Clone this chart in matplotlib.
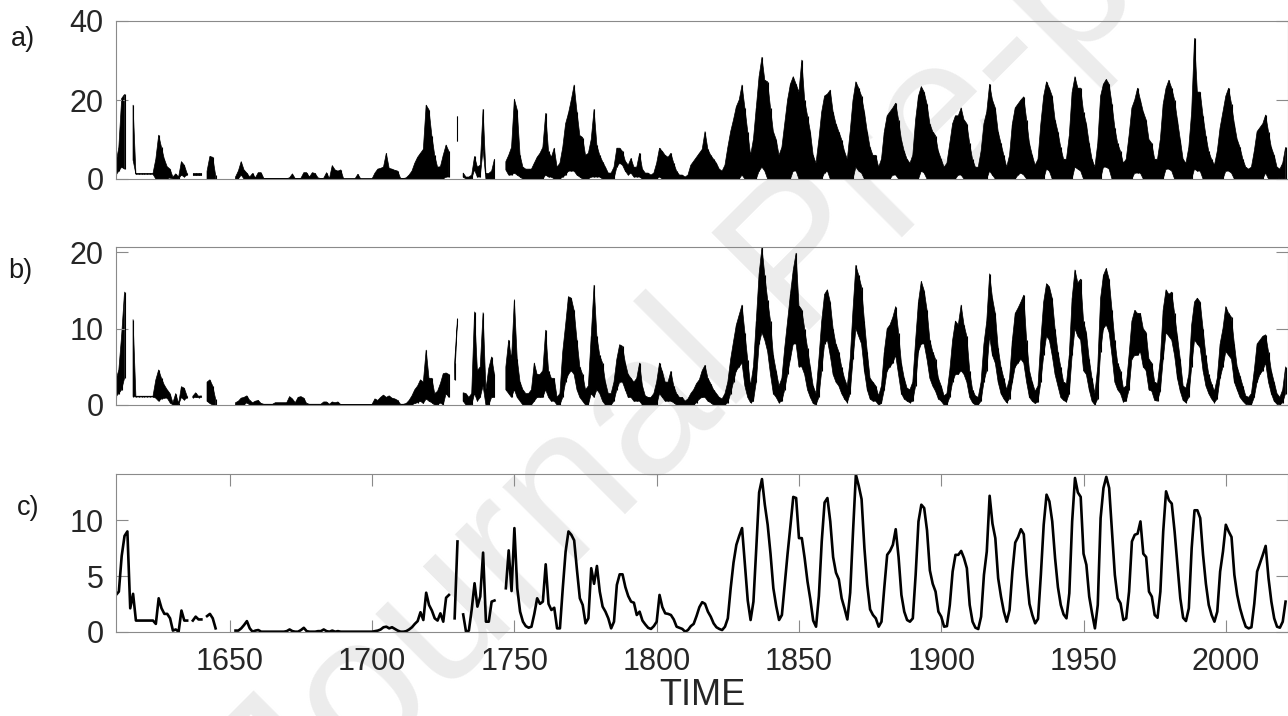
import numpy as np
import matplotlib
matplotlib.use("Agg")
import matplotlib.pyplot as plt

N = np.nan
years = np.arange(1610, 2022)

# c) yearly mean values
c_yearly = [
    3.3, 3.6, 6.8, 8.6, 9.0, 2.1, 3.4, 1.0, 1.0, 1.0,
    1.0, 1.0, 1.0, 1.0, 0.7, 3.0, 2.1, 1.6, 1.6, 1.2,
    0.1, 0.2, 0.0, 1.9, 1.0, 1.0, N, 1.0, 1.35, 1.1,
    1.1, N, 1.4, 1.6, 1.2, 0.3, N, N, N, N,
    N, N, 0.1, 0.1, 0.3, 0.6, 0.95, 0.3, 0.0, 0.1,
    0.15, 0.0, 0.0, 0.0, 0.0, 0.0, 0.0, 0.0, 0.0, 0.0,
    0.05, 0.2, 0.05, 0.0, 0.0, 0.15, 0.35, 0.05, 0.0, 0.0,
    0.0, 0.05, 0.05, 0.2, 0.05, 0.0, 0.1, 0.0, 0.05, 0.0,
    0.0, 0.0, 0.0, 0.0, 0.0, 0.0, 0.0, 0.0, 0.0, 0.0,
    0.0, 0.05, 0.1, 0.2, 0.4, 0.45, 0.3, 0.4, 0.25, 0.1,
    0.0, 0.0, 0.05, 0.2, 0.4, 0.7, 0.95, 1.75, 1.05, 3.5,
    2.4, 1.9, 1.2, 1.0, 1.65, 0.9, 3.05, 3.3, N, 1.2,
    8.1, N, 1.55, 0.0, 0.1, 2.0, 4.35, 2.25, 3.15, 7.1,
    0.9, 0.9, 2.7, 2.8, N, N, N, 3.9, 7.3, 3.65,
    9.3, 3.9, 1.8, 0.9, 0.5, 0.36, 0.45, 1.6, 3.0, 2.5,
    2.7, 6.05, 2.5, 1.95, 2.15, 0.3, 0.3, 3.9, 7.2, 9.0,
    8.7, 8.2, 5.5, 3.0, 2.4, 0.75, 1.2, 5.7, 4.3, 5.9,
    3.6, 2.25, 1.8, 1.2, 0.3, 0.9, 4.2, 5.15, 5.15, 4.0,
    3.2, 2.7, 2.6, 1.5, 1.8, 1.0, 0.65, 0.35, 0.25, 0.5,
    0.9, 3.3, 2.2, 1.65, 1.6, 1.5, 1.1, 0.45, 0.35, 0.25,
    0.0, 0.15, 0.5, 0.7, 1.4, 2.2, 2.65, 2.5, 1.8, 1.35,
    0.75, 0.4, 0.25, 0.15, 0.45, 1.2, 3.9, 6.2, 7.8, 8.6,
    9.3, 6.0, 2.8, 1.05, 2.7, 7.5, 12.5, 13.7, 11.4, 9.6,
    7.0, 3.9, 2.3, 1.05, 1.5, 4.3, 7.0, 9.5, 12.1, 12.0,
    8.4, 8.4, 6.6, 4.5, 2.9, 1.0, 0.45, 3.2, 8.1, 11.6,
    12.0, 9.9, 6.7, 5.3, 4.7, 3.0, 2.1, 1.1, 3.5, 9.0,
    14.1, 13.1, 11.9, 7.5, 4.2, 2.0, 1.5, 1.2, 0.45, 0.9,
    4.0, 6.9, 7.25, 7.8, 9.2, 6.7, 3.3, 1.8, 1.05, 0.9,
    1.2, 5.1, 9.9, 11.4, 11.1, 9.1, 5.5, 4.3, 3.6, 1.8,
    1.35, 0.45, 0.5, 2.4, 5.4, 6.9, 6.9, 7.25, 6.6, 5.7,
    2.4, 0.9, 0.36, 0.24, 1.35, 5.1, 7.2, 12.2, 9.7, 8.4,
    4.8, 3.15, 1.8, 0.9, 1.95, 5.4, 8.0, 8.5, 9.2, 8.75,
    5.1, 2.5, 1.5, 0.75, 1.15, 5.1, 9.6, 12.3, 11.7, 9.9,
    6.6, 4.0, 2.4, 1.55, 1.2, 3.45, 9.9, 13.8, 12.5, 12.1,
    7.0, 6.0, 3.15, 1.65, 0.3, 2.4, 10.2, 12.9, 13.9, 12.9,
    9.0, 5.1, 3.0, 2.55, 1.05, 1.2, 3.6, 8.1, 8.7, 8.8,
    9.9, 7.0, 6.7, 3.6, 3.15, 1.5, 1.25, 3.6, 9.0, 12.6,
    11.8, 11.5, 9.0, 6.0, 3.0, 1.25, 0.96, 2.1, 7.5, 10.9,
    10.9, 10.2, 6.9, 4.3, 2.4, 1.5, 0.9, 1.8, 5.4, 7.2,
    9.6, 9.0, 8.5, 5.1, 3.3, 2.1, 1.2, 0.45, 0.3, 0.4,
    2.5, 5.4, 6.15, 6.9, 7.7, 4.8, 2.7, 1.2, 0.45, 0.36,
    0.9, 2.7,
]

# b) monthly values: lowest and highest month of each year
b_low = [
    1.1, 1.5, 2.0, 3.5, N, N, 1.1, 1.05, 1.05, 1.05,
    1.05, 1.05, 1.05, 1.05, 0.9, 0.5, 0.8, 0.9, 0.9, 0.3,
    0.0, 0.0, 0.0, 1.0, 0.65, 0.95, N, 0.95, 1.0, 0.95,
    1.0, N, 0.5, 0.2, 0.0, 0.0, N, N, N, N,
    N, N, 0.0, 0.0, 0.0, 0.0, 0.3, 0.0, 0.0, 0.0,
    0.0, 0.0, 0.0, 0.0, 0.0, 0.0, 0.0, 0.0, 0.0, 0.0,
    0.0, 0.0, 0.0, 0.0, 0.0, 0.0, 0.0, 0.0, 0.0, 0.0,
    0.0, 0.0, 0.0, 0.0, 0.0, 0.0, 0.0, 0.0, 0.0, 0.0,
    0.0, 0.0, 0.0, 0.0, 0.0, 0.0, 0.0, 0.0, 0.0, 0.0,
    0.0, 0.0, 0.0, 0.0, 0.0, 0.0, 0.0, 0.0, 0.0, 0.0,
    0.0, 0.0, 0.0, 0.0, 0.0, 0.2, 0.3, 0.5, 0.2, 0.8,
    0.5, 0.3, 0.0, 0.0, 0.3, 0.0, 1.5, 1.0, N, 3.3,
    10.9, N, 0.5, 0.0, 0.0, 0.0, 1.5, 0.5, 1.0, 2.5,
    0.0, 0.0, 1.0, 1.0, N, N, N, 2.0, 1.5, 1.0,
    2.0, 1.0, 0.5, 0.0, 0.0, 0.0, 0.0, 0.5, 1.0, 1.0,
    1.0, 2.0, 1.0, 0.5, 0.5, 0.0, 0.0, 1.0, 3.0, 4.0,
    4.5, 4.0, 2.0, 1.0, 0.5, 0.0, 0.0, 1.5, 1.0, 2.0,
    1.5, 0.5, 0.0, 0.0, 0.0, 0.5, 2.0, 3.0, 3.0, 2.0,
    1.0, 1.0, 0.5, 0.5, 0.5, 0.0, 0.0, 0.0, 0.0, 0.0,
    0.0, 1.5, 1.0, 0.5, 0.5, 0.5, 0.3, 0.0, 0.0, 0.0,
    0.0, 0.0, 0.0, 0.0, 0.3, 0.8, 1.0, 1.0, 0.5, 0.3,
    0.0, 0.0, 0.0, 0.0, 0.0, 0.3, 1.5, 3.0, 4.5, 5.0,
    5.5, 2.5, 1.0, 0.3, 0.5, 3.0, 8.0, 9.5, 8.5, 7.0,
    4.0, 1.5, 1.0, 0.3, 0.5, 2.0, 4.0, 6.0, 8.0, 8.0,
    5.0, 5.0, 4.0, 2.0, 1.0, 0.2, 0.0, 1.0, 4.5, 8.0,
    8.5, 6.5, 4.0, 3.0, 2.5, 1.5, 0.8, 0.3, 1.5, 6.0,
    10.0, 9.0, 8.0, 4.5, 2.0, 0.8, 0.5, 0.5, 0.0, 0.2,
    2.0, 4.5, 5.0, 5.5, 6.5, 4.0, 1.5, 0.8, 0.5, 0.3,
    0.5, 2.5, 7.0, 8.0, 8.0, 6.0, 3.5, 2.5, 1.8, 0.8,
    0.5, 0.0, 0.0, 1.0, 3.0, 4.0, 4.0, 4.5, 4.0, 3.0,
    1.0, 0.3, 0.0, 0.0, 0.5, 3.0, 4.5, 9.0, 6.5, 5.5,
    3.0, 1.5, 0.8, 0.3, 0.8, 3.0, 5.0, 5.5, 6.0, 5.5,
    3.0, 1.0, 0.5, 0.2, 0.4, 3.0, 6.5, 9.0, 8.5, 6.5,
    4.0, 2.5, 1.0, 0.6, 0.4, 1.5, 6.5, 10.0, 9.0, 8.5,
    4.5, 4.0, 2.0, 0.5, 0.0, 0.8, 7.0, 10.0, 10.5, 9.5,
    6.5, 3.0, 2.0, 1.5, 0.4, 0.5, 2.0, 6.0, 6.5, 6.5,
    7.0, 5.0, 4.5, 2.0, 1.8, 0.6, 0.5, 1.8, 6.0, 9.5,
    9.0, 8.5, 6.5, 3.5, 1.8, 0.6, 0.3, 1.0, 5.0, 8.5,
    8.0, 7.5, 4.5, 2.5, 1.5, 0.8, 0.3, 0.8, 3.5, 5.0,
    7.0, 6.5, 6.0, 3.0, 2.0, 1.0, 0.5, 0.1, 0.0, 0.0,
    1.0, 3.0, 4.0, 4.5, 5.5, 3.0, 1.5, 0.5, 0.1, 0.0,
    0.3, 1.5,
]
b_high = [
    3.3, 4.6, 9.2, 14.8, N, N, 11.2, 1.15, 1.15, 1.15,
    1.15, 1.15, 1.15, 1.15, 3.3, 4.6, 3.5, 2.6, 2.0, 1.5,
    0.3, 1.5, 0.2, 2.4, 2.2, 1.15, N, 1.15, 1.6, 1.15,
    1.2, N, 3.0, 3.3, 2.5, 0.8, N, N, N, N,
    N, N, 0.3, 0.5, 0.9, 1.0, 1.2, 0.6, 0.3, 0.5,
    0.6, 0.2, 0.1, 0.1, 0.1, 0.1, 0.3, 0.3, 0.3, 0.3,
    0.3, 1.1, 0.8, 0.3, 1.0, 1.1, 0.9, 0.2, 0.1, 0.1,
    0.1, 0.1, 0.1, 0.4, 0.4, 0.1, 0.4, 0.3, 0.4, 0.05,
    0.05, 0.05, 0.05, 0.05, 0.05, 0.05, 0.05, 0.05, 0.05, 0.05,
    0.1, 0.8, 0.6, 1.0, 1.3, 1.0, 1.2, 0.9, 0.8, 0.6,
    0.1, 0.1, 0.2, 0.6, 1.2, 2.0, 2.5, 3.3, 3.0, 7.2,
    3.5, 3.5, 1.5, 1.8, 2.8, 4.1, 4.2, 4.0, N, 5.5,
    11.3, N, 1.6, 1.5, 1.0, 1.5, 12.2, 4.5, 5.0, 12.1,
    2.0, 4.8, 6.3, 4.0, N, N, N, 5.0, 8.5, 6.0,
    13.8, 6.0, 3.0, 2.0, 1.5, 1.5, 2.0, 5.5, 4.0, 4.0,
    4.5, 9.8, 4.5, 3.5, 3.5, 1.0, 1.5, 7.0, 10.5, 14.2,
    14.0, 12.4, 8.5, 5.0, 4.0, 2.0, 2.5, 9.0, 15.7, 9.0,
    6.5, 5.5, 3.0, 1.5, 1.5, 3.0, 6.0, 7.9, 7.7, 5.5,
    4.0, 3.5, 3.0, 3.5, 5.5, 2.5, 1.2, 1.0, 1.0, 1.5,
    3.0, 5.5, 4.4, 3.0, 3.0, 4.4, 2.5, 1.5, 1.0, 1.0,
    0.5, 0.8, 1.5, 2.0, 2.8, 3.3, 4.5, 5.2, 3.5, 2.8,
    2.0, 1.5, 1.0, 0.8, 1.5, 3.0, 6.0, 8.3, 10.5, 11.8,
    13.1, 9.5, 5.9, 2.5, 5.0, 11.0, 17.2, 20.67, 17.0, 13.8,
    11.0, 6.5, 4.5, 2.5, 3.5, 7.5, 11.0, 14.5, 17.7, 19.9,
    13.0, 12.5, 10.0, 7.5, 5.0, 2.5, 1.5, 6.0, 11.0, 14.5,
    15.1, 13.5, 10.0, 8.0, 7.0, 5.0, 3.5, 2.5, 6.0, 12.5,
    18.3, 17.0, 15.5, 11.0, 7.0, 3.5, 3.0, 2.5, 1.2, 2.5,
    7.0, 10.0, 10.5, 11.5, 12.9, 9.5, 5.5, 3.5, 2.2, 2.0,
    3.0, 8.5, 13.5, 16.2, 15.0, 12.5, 8.5, 7.0, 6.0, 3.5,
    2.5, 1.2, 1.5, 4.5, 8.5, 11.0, 10.5, 13.1, 10.5, 9.0,
    4.5, 2.0, 1.2, 1.0, 3.0, 8.0, 11.0, 17.2, 14.0, 12.0,
    7.5, 5.0, 3.5, 2.0, 3.5, 8.5, 12.0, 12.7, 13.5, 14.4,
    8.5, 4.5, 3.0, 1.8, 2.5, 8.5, 13.5, 15.9, 15.5, 14.0,
    10.0, 7.0, 5.0, 3.0, 2.8, 6.5, 14.0, 17.7, 16.0, 16.5,
    11.0, 9.5, 6.0, 3.5, 1.5, 5.0, 14.0, 17.0, 17.9, 16.5,
    12.5, 8.5, 5.5, 4.5, 2.2, 2.5, 6.5, 11.0, 12.4, 12.0,
    12.0, 10.0, 9.5, 6.0, 5.5, 3.0, 2.8, 6.0, 12.5, 15.1,
    14.5, 14.8, 12.0, 9.0, 6.0, 2.5, 2.2, 4.0, 10.5, 13.5,
    14.0, 13.5, 10.0, 6.5, 4.0, 2.8, 1.8, 3.5, 8.0, 10.0,
    12.9, 12.0, 11.5, 8.0, 5.0, 3.8, 2.5, 1.2, 1.0, 1.5,
    4.5, 8.0, 8.5, 9.0, 9.2, 7.0, 4.5, 3.0, 1.5, 1.0,
    2.0, 5.0,
]

# a) daily values: lowest and highest day of each year
a_low = [
    1.0, 2.0, 3.0, 2.5, N, N, 4.8, 1.2, 1.2, 1.2,
    1.2, 1.2, 1.2, 1.2, 0.0, 0.0, 0.0, 0.0, 0.0, 0.3,
    0.0, 0.0, 0.0, 1.0, 0.5, 1.0, N, 1.0, 1.0, 1.0,
    1.0, N, 0.0, 0.0, 0.0, 0.0, N, N, N, N,
    N, N, 0.0, 0.0, 1.0, 0.0, 0.0, 0.0, 0.0, 0.0,
    0.0, 0.0, 0.0, 0.0, 0.0, 0.0, 0.0, 0.0, 0.0, 0.0,
    0.0, 0.0, 0.0, 0.0, 0.0, 0.0, 0.0, 0.0, 0.0, 0.0,
    0.0, 0.0, 0.0, 0.0, 0.0, 0.0, 0.0, 0.0, 0.0, 0.0,
    0.0, 0.0, 0.0, 0.0, 0.0, 0.0, 0.0, 0.0, 0.0, 0.0,
    0.0, 0.0, 0.0, 0.0, 0.0, 0.0, 0.0, 0.0, 0.0, 0.0,
    0.0, 0.0, 0.0, 0.0, 0.0, 0.0, 0.0, 0.0, 0.0, 0.0,
    0.0, 0.0, 0.0, 0.0, 0.0, 0.0, 0.5, 0.5, N, N,
    9.5, N, 0.5, 0.0, 0.0, 0.0, 2.3, 0.5, 0.5, 7.5,
    0.0, 0.0, 0.0, 0.0, N, N, N, 2.3, 1.0, 1.0,
    1.5, 1.0, 0.5, 0.0, 0.0, 0.0, 0.0, 0.0, 0.0, 0.0,
    0.0, 1.0, 0.5, 0.5, 0.0, 0.0, 0.0, 0.5, 1.0, 2.0,
    2.0, 2.0, 1.0, 0.5, 0.0, 0.0, 0.0, 0.5, 0.5, 0.5,
    0.5, 0.0, 0.0, 0.0, 0.0, 0.0, 3.0, 4.0, 3.5, 2.0,
    1.0, 1.5, 0.5, 0.5, 0.5, 0.0, 0.0, 0.0, 0.0, 0.0,
    0.0, 0.5, 0.0, 0.0, 0.0, 0.0, 0.0, 0.0, 0.0, 0.0,
    0.0, 0.0, 0.0, 0.0, 0.0, 0.0, 0.0, 0.0, 0.0, 0.0,
    0.0, 0.0, 0.0, 0.0, 0.0, 0.0, 0.0, 0.0, 0.0, 0.0,
    1.0, 0.0, 0.0, 0.0, 0.0, 0.0, 2.0, 3.0, 2.0, 0.0,
    0.0, 0.0, 0.0, 0.0, 0.0, 0.0, 0.0, 0.0, 2.0, 2.0,
    0.0, 0.0, 0.0, 0.0, 0.0, 0.0, 0.0, 0.0, 0.0, 1.5,
    2.0, 0.0, 0.0, 0.0, 0.0, 0.0, 0.0, 0.0, 0.0, 0.0,
    3.0, 2.0, 1.5, 0.0, 0.0, 0.0, 0.0, 0.0, 0.0, 0.0,
    0.0, 0.0, 0.0, 1.0, 1.0, 0.0, 0.0, 0.0, 0.0, 0.0,
    0.0, 0.0, 0.0, 2.0, 1.5, 0.0, 0.0, 0.0, 0.0, 0.0,
    0.0, 0.0, 0.0, 0.0, 0.0, 0.0, 1.0, 1.0, 0.0, 0.0,
    0.0, 0.0, 0.0, 0.0, 0.0, 0.0, 0.0, 2.0, 1.0, 0.0,
    0.0, 0.0, 0.0, 0.0, 0.0, 0.0, 0.0, 1.0, 1.5, 1.0,
    0.0, 0.0, 0.0, 0.0, 0.0, 0.0, 0.0, 2.5, 2.0, 0.0,
    0.0, 0.0, 0.0, 0.0, 0.0, 0.0, 0.0, 3.0, 2.5, 2.0,
    0.0, 0.0, 0.0, 0.0, 0.0, 0.0, 0.0, 3.0, 3.0, 2.5,
    0.0, 0.0, 0.0, 0.0, 0.0, 0.0, 0.0, 0.0, 1.5, 1.5,
    1.5, 0.0, 0.0, 0.0, 0.0, 0.0, 0.0, 0.0, 0.0, 2.5,
    2.5, 2.0, 0.0, 0.0, 0.0, 0.0, 0.0, 0.0, 0.0, 2.5,
    2.0, 2.0, 0.0, 0.0, 0.0, 0.0, 0.0, 0.0, 0.0, 0.0,
    2.0, 2.0, 1.5, 0.0, 0.0, 0.0, 0.0, 0.0, 0.0, 0.0,
    0.0, 0.0, 0.0, 0.0, 1.5, 0.0, 0.0, 0.0, 0.0, 0.0,
    0.0, 0.0,
]
a_high = [
    4.0, 8.0, 20.4, 21.4, N, N, 18.7, 1.4, 1.4, 1.4,
    1.4, 1.4, 1.4, 1.4, 5.0, 11.1, 8.0, 5.0, 3.1, 2.5,
    0.5, 1.3, 0.5, 4.4, 3.5, 1.4, N, 1.4, 1.4, 1.4,
    1.4, N, 2.0, 5.7, 5.5, 1.0, N, N, N, N,
    N, N, 0.5, 2.0, 4.4, 2.3, 1.5, 0.5, 1.4, 0.3,
    1.6, 1.6, 0.1, 0.1, 0.1, 0.1, 0.1, 0.1, 0.1, 0.1,
    0.1, 0.3, 1.3, 0.1, 0.1, 0.2, 1.6, 1.6, 0.5, 1.6,
    1.4, 0.3, 0.1, 0.2, 1.6, 0.1, 3.4, 2.3, 2.0, 2.3,
    0.05, 0.05, 0.05, 0.05, 0.05, 1.2, 0.05, 0.05, 0.05, 0.05,
    0.05, 1.5, 2.5, 2.7, 3.0, 6.5, 2.7, 2.5, 2.2, 2.0,
    0.2, 0.1, 0.3, 1.0, 2.0, 4.0, 5.5, 6.5, 7.5, 18.7,
    17.5, 11.0, 6.0, 3.0, 3.1, 6.0, 8.6, 7.0, N, N,
    16.0, N, 1.5, 0.5, 0.5, 1.0, 5.7, 3.0, 3.5, 17.6,
    1.4, 1.4, 2.0, 5.0, N, N, N, 4.4, 6.0, 8.0,
    20.2, 17.5, 6.0, 3.0, 2.5, 2.5, 2.5, 4.0, 5.5, 6.5,
    8.0, 16.6, 7.0, 5.5, 7.8, 3.0, 4.0, 8.0, 14.0, 16.6,
    20.0, 23.8, 17.0, 11.0, 10.5, 6.0, 6.5, 10.0, 17.6, 8.5,
    6.0, 4.4, 3.0, 1.5, 1.5, 3.0, 7.8, 7.8, 7.0, 4.5,
    3.5, 5.2, 3.0, 3.0, 6.5, 2.5, 1.5, 1.5, 1.0, 1.5,
    4.0, 7.8, 7.0, 6.0, 5.5, 6.5, 4.0, 2.0, 1.0, 1.0,
    0.5, 1.0, 3.5, 4.5, 5.5, 6.5, 7.5, 12.0, 7.5, 6.0,
    5.0, 4.0, 2.5, 2.0, 3.5, 8.0, 12.0, 15.0, 18.3, 20.0,
    23.8, 18.0, 12.0, 6.0, 10.0, 18.0, 26.0, 30.8, 25.0, 24.6,
    18.0, 12.0, 10.0, 6.0, 8.0, 14.0, 20.0, 24.0, 25.9, 24.0,
    22.0, 30.1, 20.0, 16.0, 12.0, 6.0, 4.0, 10.0, 17.0, 21.0,
    21.5, 22.5, 17.0, 14.0, 12.0, 10.0, 7.0, 5.0, 12.0, 20.0,
    24.6, 23.0, 21.0, 17.0, 12.0, 8.0, 6.0, 6.0, 3.0, 5.0,
    12.0, 16.0, 17.0, 18.0, 19.2, 15.0, 10.0, 7.0, 5.0, 4.0,
    6.0, 15.0, 21.0, 23.4, 22.0, 19.0, 14.0, 12.0, 11.0, 7.0,
    5.0, 3.0, 4.0, 9.0, 14.0, 16.0, 16.0, 18.0, 15.0, 14.0,
    9.0, 5.0, 3.0, 3.0, 7.0, 14.0, 17.0, 24.0, 20.0, 18.0,
    12.0, 9.0, 6.0, 3.0, 6.0, 14.0, 18.0, 19.0, 20.0, 20.8,
    15.0, 9.0, 6.0, 3.5, 5.0, 14.0, 21.0, 24.6, 23.0, 21.0,
    15.0, 12.0, 8.0, 5.0, 5.0, 11.0, 22.0, 25.9, 23.0, 23.0,
    17.0, 14.0, 9.0, 5.0, 3.0, 9.0, 21.0, 24.0, 25.2, 24.0,
    19.0, 13.0, 9.0, 7.0, 4.0, 5.0, 11.0, 18.0, 20.0, 23.0,
    20.0, 17.0, 15.0, 10.0, 9.0, 5.0, 5.0, 10.0, 19.0, 23.0,
    25.0, 23.0, 20.0, 15.0, 10.0, 5.0, 4.0, 8.0, 17.0, 35.6,
    22.0, 22.0, 16.0, 11.0, 7.0, 5.0, 3.5, 7.0, 13.0, 17.0,
    21.0, 23.0, 19.0, 14.0, 10.0, 8.0, 5.0, 3.0, 2.5, 3.0,
    7.0, 12.0, 13.0, 14.0, 16.2, 12.0, 8.0, 6.0, 3.0, 2.5,
    4.0, 8.0,
]

x_ticks = [1650, 1700, 1750, 1800, 1850, 1900, 1950, 2000]
panel_labels = ["a)", "b)", "c)"]
a_yticks = [0, 20, 40]
b_yticks = [0, 10, 20]
c_yticks = [0, 5, 10]

plt.rcParams["font.family"] = ["Liberation Sans", "DejaVu Sans"]

W, H = 1288, 716
fig = plt.figure(figsize=(W / 100, H / 100), dpi=100)


def rect(top, bottom, left=116, right=1288):
    return [left / W, 1 - bottom / H, (right - left) / W, (bottom - top) / H]


ax_a = fig.add_axes(rect(21, 179))
ax_b = fig.add_axes(rect(247.3, 405))
ax_c = fig.add_axes(rect(474.3, 631.7))

# watermark
fig.text(805 / W, 1 - 262 / H, "Journal Pre-proof", rotation=45, fontsize=145,
         color="#ececec", ha="center", va="center", zorder=-5)

yrs = np.asarray(years, dtype=float)
for ax, lo, hi in ((ax_a, a_low, a_high), (ax_b, b_low, b_high)):
    lo = np.asarray(lo, dtype=float)
    hi = np.asarray(hi, dtype=float)
    ax.fill_between(yrs, lo, hi, facecolor="black", edgecolor="black",
                    linewidth=0.5)
    ax.vlines(yrs, lo, hi, color="black", linewidth=0.8)

ax_c.plot(yrs, np.asarray(c_yearly, dtype=float), color="black", linewidth=1.9)

spine_col = "#8a8a8a"
for ax, yl, yt in ((ax_a, 40, a_yticks), (ax_b, 20.67, b_yticks),
                   (ax_c, 14.13, c_yticks)):
    ax.set_facecolor("none")
    ax.set_xlim(1610, 2021.85)
    ax.set_ylim(0, yl)
    ax.set_yticks(yt)
    for s in ax.spines.values():
        s.set_color(spine_col)
        s.set_linewidth(0.8)
    ax.tick_params(direction="in", length=8.4, width=0.8, color=spine_col,
                   labelsize=22, labelcolor="#262626", pad=9,
                   left=True, right=True, top=True, bottom=True)

ax_a.set_xticks([])
ax_b.set_xticks([])
ax_c.set_xticks(x_ticks)
ax_c.set_xticklabels([str(t) for t in x_ticks])
ax_c.tick_params(axis="x", pad=11)
ax_c.set_xlabel("TIME", fontsize=26, color="#262626", labelpad=0.5)

for lab, (px, py) in zip(panel_labels, [(11, 39), (8, 271), (17, 508)]):
    fig.text(px / W, 1 - py / H, lab, fontsize=19.5, color="#1a1a1a",
             ha="left", va="center")

fig.savefig("out.png", dpi=100)
